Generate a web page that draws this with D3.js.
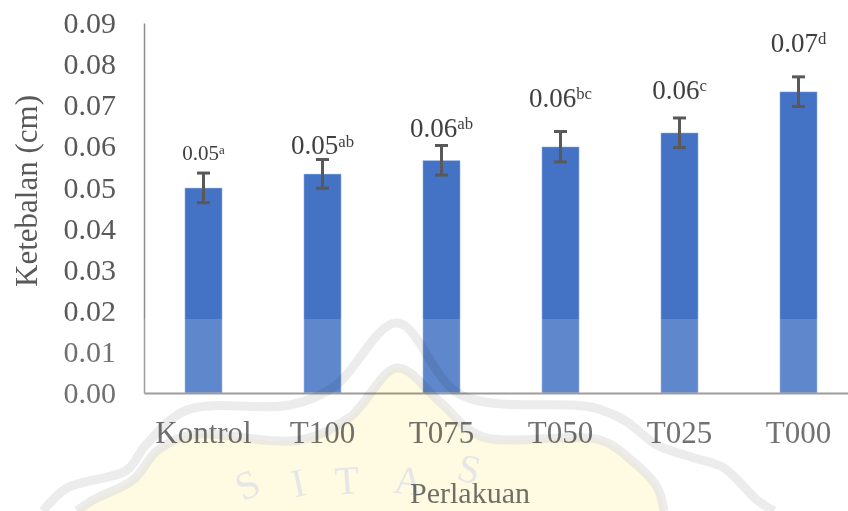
<!DOCTYPE html>
<html>
<head>
<meta charset="utf-8">
<script src="https://cdn.jsdelivr.net/npm/d3@7"></script>
<style>
  body { margin: 0; background: #fff; }
  svg { display: block; font-family: "Liberation Serif", "Times New Roman", serif; }
</style>
</head>
<body>
<script>
// Chart data
const categories = ["Kontrol", "T100", "T075", "T050", "T025", "T000"];
const means = [0.0499, 0.0533, 0.0566, 0.0599, 0.0633, 0.0733];
const errors = [0.0036, 0.0035, 0.0036, 0.0037, 0.0036, 0.0036];
const letters = ["a", "ab", "ab", "bc", "c", "d"];
const yTicks = [0, 0.01, 0.02, 0.03, 0.04, 0.05, 0.06, 0.07, 0.08, 0.09];

// labels were nudged by hand in the original, so keep their lift and size apart
const labelGap = [13, 5, 9, 25, 19, 25];
const labelSize = [21, 27, 27, 27, 27, 27];

const width = 848, height = 511;
const svg = d3.select("body").append("svg")
  .attr("width", width)
  .attr("height", height);

const x = d3.scaleBand()
  .domain(categories)
  .range([144, 858])
  .paddingInner(0.685)
  .paddingOuter(0.3425);

const y = d3.scaleLinear()
  .domain([0, 0.09])
  .range([393, 23]);

const rows = categories.map((c, i) => ({ cat: c, mean: means[i], err: errors[i], letter: letters[i], i }));

// Y axis
const yAxis = svg.append("g")
  .attr("transform", "translate(144,0)")
  .call(d3.axisLeft(y).tickValues(yTicks).tickFormat(d3.format(".2f")).tickSize(0).tickSizeOuter(0).tickPadding(28))
  .attr("font-family", null)
  .attr("font-size", 30);
yAxis.select(".domain").attr("stroke", "#8c8c8c").attr("stroke-width", 1.5);
yAxis.selectAll("text").attr("fill", "#595959");

// Bars
svg.append("g")
  .selectAll("rect")
  .data(rows)
  .join("rect")
  .attr("x", d => x(d.cat))
  .attr("width", x.bandwidth())
  .attr("y", d => y(d.mean))
  .attr("height", d => y(0) - y(d.mean))
  .attr("fill", "#4472C4")
  .attr("stroke", "#ffffff")
  .attr("stroke-opacity", 0.45)
  .attr("stroke-width", 1);

// X axis
const xAxis = svg.append("g")
  .attr("transform", "translate(0,393)")
  .call(d3.axisBottom(x).tickSize(0).tickSizeOuter(0).tickPadding(28))
  .attr("font-family", null)
  .attr("font-size", 31);
xAxis.select(".domain").attr("stroke", "#8c8c8c").attr("stroke-width", 2);
xAxis.selectAll("text").attr("fill", "#595959");

// Error bars
const eb = svg.append("g")
  .attr("stroke", "#595959")
  .attr("stroke-width", 3)
  .selectAll("g")
  .data(rows)
  .join("g")
  .attr("transform", d => `translate(${x(d.cat) + x.bandwidth() / 2},0)`);
eb.append("line")
  .attr("y1", d => y(d.mean - d.err))
  .attr("y2", d => y(d.mean + d.err));
eb.append("line")
  .attr("x1", -6.5).attr("x2", 6.5)
  .attr("y1", d => y(d.mean + d.err))
  .attr("y2", d => y(d.mean + d.err));
eb.append("line")
  .attr("x1", -6.5).attr("x2", 6.5)
  .attr("y1", d => y(d.mean - d.err))
  .attr("y2", d => y(d.mean - d.err));

// Value labels with significance letters
const lab = svg.append("g")
  .attr("text-anchor", "middle")
  .attr("fill", "#404040")
  .selectAll("text")
  .data(rows)
  .join("text")
  .attr("x", d => x(d.cat) + x.bandwidth() / 2)
  .attr("y", d => y(d.mean + d.err) - labelGap[d.i])
  .attr("font-size", d => labelSize[d.i]);
lab.append("tspan").text(d => d3.format(".2f")(d.mean));
lab.append("tspan")
  .attr("font-size", "0.62em")
  .attr("dy", "-0.45em")
  .text(d => d.letter);

// Axis titles
svg.append("text")
  .attr("transform", "translate(37,191) rotate(-90)")
  .attr("text-anchor", "middle")
  .attr("font-size", 31)
  .attr("fill", "#595959")
  .text("Ketebalan (cm)");

svg.append("text")
  .attr("x", 470)
  .attr("y", 503)
  .attr("text-anchor", "middle")
  .attr("font-size", 30)
  .attr("fill", "#595959")
  .text("Perlakuan");

// Faint watermark laid over the lower part of the picture
svg.append("rect")
  .attr("x", 0).attr("y", 319)
  .attr("width", width).attr("height", height - 319)
  .attr("fill", "#fff")
  .attr("opacity", 0.15);

const wm = svg.append("g").style("mix-blend-mode", "multiply");
const curve = d3.line().curve(d3.curveCatmullRom);
const outer = [[43,511],[67,488],[127,470],[145,446],[187,410],[290,405],[335,386],[397,323],[461,395],[591,407],[624,420],[657,445],[691,457],[724,468],[757,500],[774,511]];
const inner = [[77,511],[93,500],[133,480],[157,451],[190,435],[300,440],[350,417],[397,368],[440,402],[480,436],[600,440],[631,460],[657,487],[664,511]];

wm.append("path")
  .attr("d", curve(inner) + "Z")
  .attr("fill", "#fefbe2");
wm.selectAll("path.band")
  .data([outer, inner])
  .join("path")
  .attr("class", "band")
  .attr("d", d => curve(d))
  .attr("fill", "none")
  .attr("stroke", "#dcdcdc")
  .attr("stroke-width", 9)
  .attr("opacity", 0.55);

const wmLetters = [["S", 253, 497, -25], ["I", 301, 496, -12], ["T", 348, 494, -4], ["A", 407, 494, 6], ["S", 466, 482, 14]];
wm.selectAll("text")
  .data(wmLetters)
  .join("text")
  .attr("transform", d => `translate(${d[1]},${d[2]}) rotate(${d[3]})`)
  .attr("text-anchor", "middle")
  .attr("font-size", 40)
  .attr("fill", "#e6e6e6")
  .text(d => d[0]);
</script>
</body>
</html>
